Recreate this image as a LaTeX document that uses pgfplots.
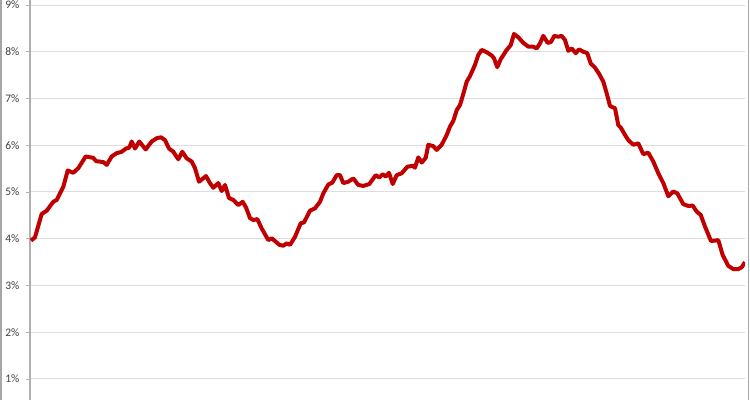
\documentclass[border=0pt]{standalone}
\usepackage{pgfplots}
\pgfplotsset{compat=1.18}
\usepackage{fontspec}
\setmainfont{Carlito}
\definecolor{linered}{HTML}{C00000}
\definecolor{gridgray}{HTML}{DDDDDD}
\definecolor{axgray}{HTML}{B0B0B0}
\definecolor{labgray}{HTML}{404040}
\begin{document}
\begin{tikzpicture}[x=1pt,y=1pt]
  \begin{axis}[
    at={(30pt,0pt)}, anchor=south west,
    scale only axis,
    width=715pt, height=400pt,
    xmin=30, xmax=745,
    ymin=0.55, ymax=9.107,
    axis x line=none,
    axis y line*=left,
    y axis line style={draw=axgray, line width=1pt},
    ytick={1,2,3,4,5,6,7,8,9},
    yticklabels={1\%,2\%,3\%,4\%,5\%,6\%,7\%,8\%,9\%},
    tick align=outside,
    major tick length=4pt,
    ytick style={draw=axgray, line width=0.8pt},
    ymajorgrids,
    grid style={draw=gridgray, line width=1pt},
    yticklabel style={font=\fontsize{11.5}{13}\selectfont, text=labgray, xshift=-3pt},
  ]

  % rate series
  \addplot[linered, line width=4pt, line join=round] coordinates {
    (31,3.96) (35,4.03) (41.7,4.53) (46.7,4.60) (53.3,4.79) (56.7,4.83)
    (63.3,5.11) (67.7,5.46) (73.3,5.41) (78.3,5.51) (85.7,5.76) (93.3,5.73)
    (96,5.66) (103.3,5.64) (106.7,5.58) (111.7,5.76) (116.7,5.83) (121.7,5.86)
    (126,5.93) (129.3,5.95) (131.7,6.08) (135,5.93) (139.3,6.08) (145.7,5.91)
    (151.7,6.08) (156.7,6.15) (161,6.17) (165,6.11) (169,5.93) (173.3,5.86)
    (178.3,5.70) (182.3,5.86) (186.7,5.72) (191.7,5.65) (195,5.51) (199,5.22)
    (206,5.34) (210,5.19) (213.3,5.09) (218.3,5.19) (221.7,5.02) (225,5.15)
    (229,4.87) (233.3,4.83) (238.3,4.72) (242.7,4.79) (246,4.67) (250,4.44)
    (253.3,4.40) (257.3,4.42) (261.7,4.22) (268.3,3.97) (271.7,4.01) (275,3.95)
    (279.3,3.87) (283.3,3.85) (286.7,3.90) (290,3.87) (295,4.04) (300.7,4.33)
    (304,4.35) (310,4.60) (315,4.65) (320,4.79) (323.3,4.97) (328.3,5.16)
    (332.3,5.20) (336.7,5.36) (340,5.36) (343.3,5.19) (348.3,5.22) (353.3,5.29)
    (358.3,5.15) (363.3,5.13) (369.3,5.17) (372.7,5.27) (375.7,5.36) (379.3,5.31)
    (382.7,5.38) (385.7,5.33) (389,5.41) (392.7,5.17) (396.7,5.36) (401.7,5.40)
    (407.3,5.54) (412.7,5.56) (415,5.52) (418.3,5.74) (421.7,5.63) (425.7,5.73)
    (428.3,6.01) (433.3,5.98) (436.7,5.90) (441.7,6.01) (446.7,6.22) (450,6.40)
    (453.3,6.52) (456.7,6.75) (460,6.86) (464,7.15) (466.7,7.36) (470,7.48)
    (475,7.72) (478.3,7.93) (481.7,8.04) (486.7,7.99) (491.7,7.92) (494,7.86)
    (497.3,7.67) (500.7,7.84) (506.7,8.04) (510.7,8.14) (514,8.38) (518.3,8.31)
    (523.3,8.19) (528.3,8.11) (533.3,8.11) (536.7,8.07) (540,8.18) (543.3,8.34)
    (547.7,8.19) (551,8.21) (554.3,8.34) (558.3,8.32) (561.7,8.34) (565,8.25)
    (568.3,8.02) (571.7,8.07) (575.7,7.97) (579,8.05) (583.3,8.00) (587.3,7.97)
    (590.7,7.75) (595,7.66) (599.3,7.52) (603.3,7.36) (606.7,7.11) (610,6.84)
    (615,6.79) (618.3,6.43) (621,6.37) (625,6.22) (628.3,6.11) (633.3,6.01)
    (638.3,6.04) (643.3,5.81) (648.3,5.84) (653.3,5.65) (658.3,5.40) (663.3,5.19)
    (668.3,4.91) (673.3,5.01) (677.3,4.97) (683.3,4.74) (688.3,4.70) (692.7,4.71)
    (696.7,4.58) (700.7,4.51) (705,4.26) (711,3.95) (718.3,3.97) (722.7,3.65)
    (728.3,3.42) (733.3,3.35) (738.3,3.35) (741.7,3.39) (745,3.50)
  };
  \end{axis}
  % chart frame edges
  \draw[draw=gray!70, line width=1.5pt] (0.75pt,0pt) -- (0.75pt,400pt);
  \draw[draw=gray!70, line width=1.5pt] (748.5pt,0pt) -- (748.5pt,400pt);
  \pgfresetboundingbox
  \useasboundingbox (0pt,0pt) rectangle (750pt,400pt);
\end{tikzpicture}
\end{document}
